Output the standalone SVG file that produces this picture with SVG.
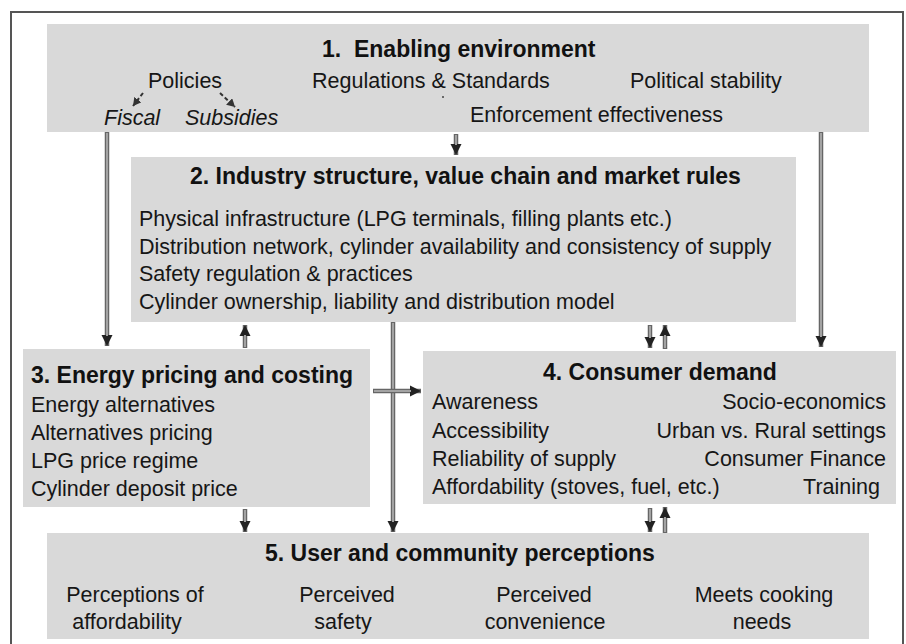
<svg xmlns="http://www.w3.org/2000/svg" width="906" height="644" viewBox="0 0 906 644">
<style>
.box{fill:#d9d9d9;stroke:none}
.t{font-family:"Liberation Sans",Arial,sans-serif;font-size:21.5px;fill:#161616}
.h{font-family:"Liberation Sans",Arial,sans-serif;font-size:23px;font-weight:bold;fill:#111}
.i{font-style:italic}
.m{text-anchor:middle}
.e{text-anchor:end}
.shaft{stroke:#666;stroke-width:4.5;fill:none}
.core{stroke:#a3a3a3;stroke-width:2;fill:none}
.dash{stroke:#333;stroke-width:2;stroke-dasharray:4 2.5;fill:none}
</style>
<defs>
<marker id="ah" markerUnits="userSpaceOnUse" markerWidth="12" markerHeight="12" refX="11" refY="6" orient="auto">
<path d="M0,0.5 L11,6 L0,11.5 z" fill="#222"/>
</marker>
<marker id="ahs" markerUnits="userSpaceOnUse" markerWidth="9" markerHeight="9" refX="8" refY="4.5" orient="auto">
<path d="M0,0 L8,4.5 L0,9 z" fill="#333"/>
</marker>
</defs>
<rect x="0" y="0" width="906" height="644" fill="#ffffff"/>
<rect x="11" y="12" width="892" height="640" fill="none" stroke="#555" stroke-width="2"/>

<g id="node1">
<rect class="box" x="47" y="24" width="822" height="108"/>
<text class="h" x="322" y="57" xml:space="preserve">1.  Enabling environment</text>
<text class="t" x="148" y="88">Policies</text>
<text class="t i" x="104" y="125">Fiscal</text>
<text class="t i" x="185" y="125">Subsidies</text>
<text class="t" x="312" y="88">Regulations &amp; Standards</text>
<circle cx="443" cy="97" r="1" fill="#444"/>
<text class="t" x="630" y="88">Political stability</text>
<text class="t" x="470" y="122">Enforcement effectiveness</text>
</g>

<g id="node2">
<rect class="box" x="131" y="157" width="665" height="165"/>
<text class="h" x="190" y="184">2. Industry structure, value chain and market rules</text>
<text class="t" x="139" y="226">Physical infrastructure (LPG terminals, filling plants etc.)</text>
<text class="t" x="139" y="254">Distribution network, cylinder availability and consistency of supply</text>
<text class="t" x="139" y="281">Safety regulation &amp; practices</text>
<text class="t" x="139" y="309">Cylinder ownership, liability and distribution model</text>
</g>

<g id="node3">
<rect class="box" x="23" y="349" width="347" height="158"/>
<text class="h" x="31" y="383">3. Energy pricing and costing</text>
<text class="t" x="31" y="412">Energy alternatives</text>
<text class="t" x="31" y="440">Alternatives pricing</text>
<text class="t" x="31" y="468">LPG price regime</text>
<text class="t" x="31" y="496">Cylinder deposit price</text>
</g>

<g id="node4">
<rect class="box" x="423" y="351" width="473" height="153"/>
<text class="h" x="543" y="380">4. Consumer demand</text>
<text class="t" x="432" y="409">Awareness</text>
<text class="t" x="432" y="438">Accessibility</text>
<text class="t" x="432" y="466">Reliability of supply</text>
<text class="t" x="432" y="494">Affordability (stoves, fuel, etc.)</text>
<text class="t e" x="886" y="409">Socio-economics</text>
<text class="t e" x="886" y="438">Urban vs. Rural settings</text>
<text class="t e" x="886" y="466">Consumer Finance</text>
<text class="t e" x="880" y="494">Training</text>
</g>

<g id="node5">
<rect class="box" x="47" y="533" width="822" height="106"/>
<text class="h" x="265" y="561">5. User and community perceptions</text>
<text class="t m" x="135" y="602">Perceptions of</text>
<text class="t m" x="127" y="629">affordability</text>
<text class="t m" x="347" y="602">Perceived</text>
<text class="t m" x="343" y="629">safety</text>
<text class="t m" x="544" y="602">Perceived</text>
<text class="t m" x="545" y="629">convenience</text>
<text class="t m" x="764" y="602">Meets cooking</text>
<text class="t m" x="762" y="629">needs</text>
</g>

<g id="connectors">
<path class="dash" d="M143,93 L133,106" marker-end="url(#ahs)"/>
<path class="dash" d="M220,93 L235,107" marker-end="url(#ahs)"/>
<path class="shaft" d="M107,132 L107,346" marker-end="url(#ah)"/>
<path class="core" d="M107,133 L107,336"/>
<path class="shaft" d="M456,134 L456,155" marker-end="url(#ah)"/>
<path class="core" d="M456,135 L456,145"/>
<path class="shaft" d="M821,132 L821,347" marker-end="url(#ah)"/>
<path class="core" d="M821,133 L821,337"/>
<path class="shaft" d="M245,348 L245,325" marker-end="url(#ah)"/>
<path class="core" d="M245,347 L245,335"/>
<path class="shaft" d="M393,322 L393,532" marker-end="url(#ah)"/>
<path class="core" d="M393,323 L393,522"/>
<path class="shaft" d="M373,391 L421,391" marker-end="url(#ah)"/>
<path class="core" d="M374,391 L411,391"/>
<path class="shaft" d="M650,325 L650,348" marker-end="url(#ah)"/>
<path class="core" d="M650,326 L650,338"/>
<path class="shaft" d="M665,349 L665,325" marker-end="url(#ah)"/>
<path class="core" d="M665,348 L665,335"/>
<path class="shaft" d="M245,509 L245,532" marker-end="url(#ah)"/>
<path class="core" d="M245,510 L245,522"/>
<path class="shaft" d="M650,508 L650,532" marker-end="url(#ah)"/>
<path class="core" d="M650,509 L650,522"/>
<path class="shaft" d="M665,533 L665,507" marker-end="url(#ah)"/>
<path class="core" d="M665,532 L665,517"/>
</g>
</svg>
